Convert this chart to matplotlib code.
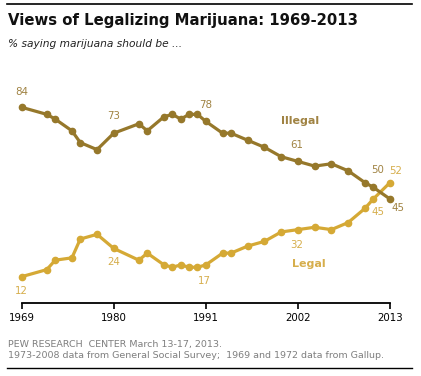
import matplotlib.pyplot as plt
from matplotlib.lines import Line2D

plt.rcParams['font.family'] = ['DejaVu Sans']

years = [1969, 1972, 1973, 1975, 1976, 1978, 1980, 1983, 1984, 1986, 1987,
         1988, 1989, 1990, 1991, 1993, 1994, 1996, 1998, 2000, 2002, 2004,
         2006, 2008, 2010, 2011, 2013]
illegal = [84, 81, 79, 74, 69, 66, 73, 77, 74, 80, 81,
           79, 81, 81, 78, 73, 73, 70, 67, 63, 61, 59,
           60, 57, 52, 50, 45]
legal = [12, 15, 19, 20, 28, 30, 24, 19, 22, 17, 16,
         17, 16, 16, 17, 22, 22, 25, 27, 31, 32, 33,
         32, 35, 41, 45, 52]
tick_years = [1969, 1980, 1991, 2002, 2013]

c_illegal = '#96782B'
c_legal = '#D5A935'
t_illegal = '#A08343'
t_legal = '#D6AE4C'

W, H = 421, 376
fig = plt.figure(figsize=(W / 100, H / 100), dpi=100)
ax = fig.add_axes([21.7 / W, (H - 303) / H, (390 - 21.7) / W, (303 - 93.2) / H])
ax.set_xlim(1969, 2013)
ax.set_ylim(0.8, 90)

ax.plot(years, legal, color=c_legal, lw=2.3, marker='o', ms=4.5, clip_on=False)
ax.plot(years, illegal, color=c_illegal, lw=2.3, marker='o', ms=4.5, clip_on=False)

for s in ['top', 'right', 'left']:
    ax.spines[s].set_visible(False)
ax.spines['bottom'].set_linewidth(1.3)
ax.set_yticks([])
ax.set_xticks(tick_years)
ax.tick_params(axis='x', length=4, width=1.2, pad=3.2, labelsize=7.4)

# value labels: (year, value, text, dx px, dy px, colour)
labels = [
    (1969, 84, '84', 0, 15, t_illegal),
    (1980, 73, '73', 0, 17, t_illegal),
    (1991, 78, '78', 0, 16, t_illegal),
    (2002, 61, '61', -1, 16, t_illegal),
    (2011, 50, '50', 4, 17, t_illegal),
    (2013, 45, '45', 8, -9, t_illegal),
    (1969, 12, '12', 0, -14, t_legal),
    (1980, 24, '24', 0, -14, t_legal),
    (1991, 17, '17', -1, -16, t_legal),
    (2002, 32, '32', -1, -15, t_legal),
    (2011, 45, '45', 5, -13, t_legal),
    (2013, 52, '52', 6, 12, t_legal),
]
for x, y, t, dx, dy, c in labels:
    ax.annotate(t, (x, y), xytext=(dx, dy), textcoords='offset pixels',
                ha='center', va='center', fontsize=7.4, color=c)

ax.text(2002.2, 78.2, 'Illegal', ha='center', va='center', fontsize=8,
        fontweight='bold', color=t_illegal)
ax.text(2003.3, 17.3, 'Legal', ha='center', va='center', fontsize=8,
        fontweight='bold', color=t_legal)

# rules, title and notes
fig.add_artist(Line2D([7 / W, 412 / W], [1 - 3.5 / H, 1 - 3.5 / H], color='black', lw=1.2))
fig.add_artist(Line2D([7 / W, 412 / W], [1 - 368 / H, 1 - 368 / H], color='black', lw=1.0))
fig.text(7.5 / W, 1 - 25 / H, 'Views of Legalizing Marijuana: 1969-2013',
         fontsize=10.7, fontweight='bold', color='#111111', va='baseline')
fig.text(7.5 / W, 1 - 46.7 / H, '% saying marijuana should be ...',
         fontsize=7.7, style='italic', color='#222222', va='baseline')
fig.text(7.5 / W, 1 - 346.7 / H, 'PEW RESEARCH  CENTER March 13-17, 2013.',
         fontsize=6.8, color='#7f7f7f', va='baseline')
fig.text(7.5 / W, 1 - 358.3 / H,
         '1973-2008 data from General Social Survey;  1969 and 1972 data from Gallup.',
         fontsize=6.8, color='#7f7f7f', va='baseline')

fig.savefig('out.png', dpi=100)
